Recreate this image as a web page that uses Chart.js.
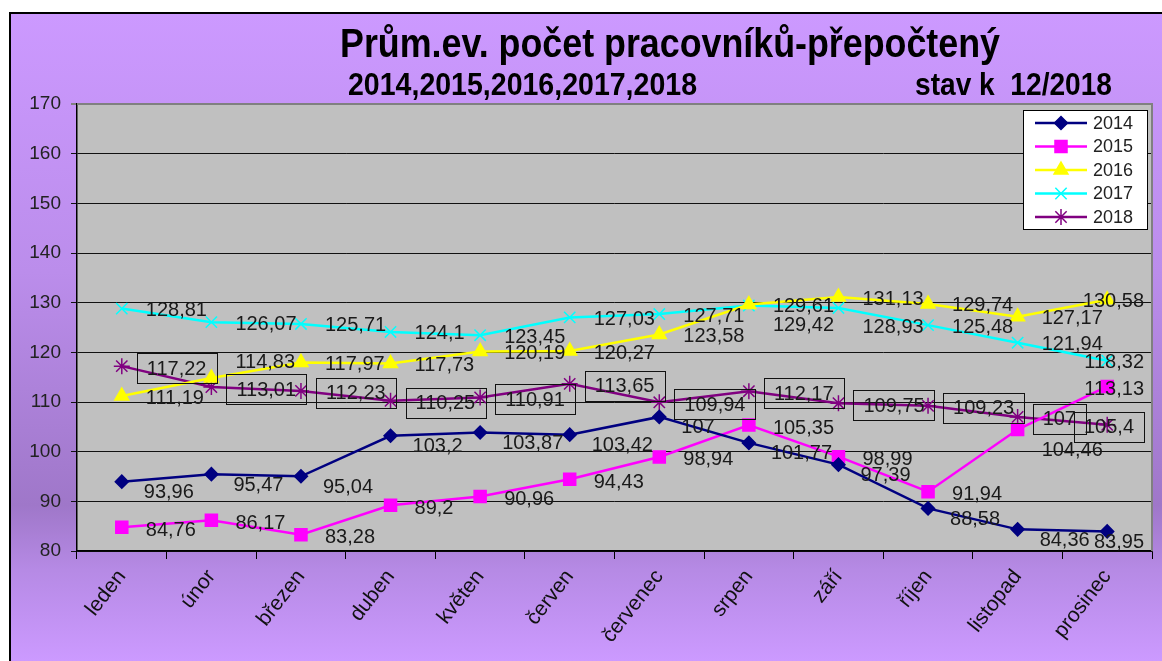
<!DOCTYPE html>
<html>
<head>
<meta charset="utf-8">
<script src="https://cdn.jsdelivr.net/npm/chart.js@4.4.0/dist/chart.umd.min.js"></script>
<style>
  html, body { margin: 0; padding: 0; background: #fff; }
  canvas { display: block; }
</style>
</head>
<body>
<canvas id="chart" width="1162" height="661"></canvas>
<script>
// Category axis and series
const months = ['leden', 'únor', 'březen', 'duben', 'květen', 'červen',
  'červenec', 'srpen', 'září', 'říjen', 'listopad', 'prosinec'];
const years = ['2014', '2015', '2016', '2017', '2018'];

const values2014 = [93.96, 95.47, 95.04, 103.2, 103.87, 103.42, 107, 101.77, 97.39, 88.58, 84.36, 83.95];
const values2015 = [84.76, 86.17, 83.28, 89.2, 90.96, 94.43, 98.94, 105.35, 98.99, 91.94, 104.46, 113.13];
const values2016 = [111.19, 114.83, 117.97, 117.73, 120.19, 120.27, 123.58, 129.61, 131.13, 129.74, 127.17, 130.58];
const values2017 = [128.81, 126.07, 125.71, 124.1, 123.45, 127.03, 127.71, 129.42, 128.93, 125.48, 121.94, 118.32];
const values2018 = [117.22, 113.01, 112.23, 110.25, 110.91, 113.65, 109.94, 112.17, 109.75, 109.23, 107, 105.4];

const yMin = 80;
const yMax = 170;
const yStep = 10;

const titleText = 'Prům.ev. počet pracovníků-přepočtený';
const subtitleYears = '2014,2015,2016,2017,2018';
const subtitleState = 'stav k  12/2018';

const FONT = '"Liberation Sans", Arial, sans-serif';

// format numbers the Czech way (decimal comma)
const fmt = v => String(v).replace('.', ',');

// draw text squeezed to a given width (the original uses a narrow face)
function drawFitted(ctx, text, x, y, width, font) {
  ctx.save();
  ctx.font = font;
  const w = ctx.measureText(text).width;
  ctx.translate(x, y);
  ctx.scale(width / w, 1);
  ctx.fillText(text, 0, 0);
  ctx.restore();
}

// purple page, frame and grey plot area
const backgroundPlugin = {
  id: 'background',
  beforeDraw(chart) {
    const { ctx, width, height, chartArea: a } = chart;
    ctx.save();
    ctx.fillStyle = '#fff';
    ctx.fillRect(0, 0, width, height);
    const g = ctx.createLinearGradient(0, 13, 0, height);
    g.addColorStop(0, '#cc99ff');
    g.addColorStop(0.4, '#bb8deb');
    g.addColorStop(0.76, '#9f77c9');
    g.addColorStop(0.86, '#b68ae5');
    g.addColorStop(1, '#cc9aff');
    ctx.fillStyle = g;
    ctx.fillRect(10, 13, width - 10, height - 13);
    ctx.strokeStyle = '#000';
    ctx.lineWidth = 2;
    ctx.beginPath();
    ctx.moveTo(10, height);
    ctx.lineTo(10, 13);
    ctx.lineTo(width, 13);
    ctx.stroke();
    ctx.fillStyle = '#c0c0c0';
    ctx.fillRect(a.left, a.top, a.right - a.left, a.bottom - a.top);
    ctx.restore();
  },
  beforeDatasetsDraw(chart) {
    const { ctx, chartArea: a } = chart;
    ctx.save();
    ctx.strokeStyle = '#808080';
    ctx.lineWidth = 2;
    ctx.beginPath();
    ctx.moveTo(a.left, a.top);
    ctx.lineTo(a.right, a.top);
    ctx.lineTo(a.right, a.bottom);
    ctx.stroke();
    ctx.restore();
  }
};

// title lines
const titlePlugin = {
  id: 'titles',
  afterDraw(chart) {
    const { ctx } = chart;
    ctx.save();
    ctx.fillStyle = '#000';
    ctx.textBaseline = 'alphabetic';
    drawFitted(ctx, titleText, 340, 57, 660, 'bold 40px ' + FONT);
    drawFitted(ctx, subtitleYears, 348, 95, 349, 'bold 32px ' + FONT);
    drawFitted(ctx, subtitleState, 915, 95, 197, 'bold 32px ' + FONT);
    ctx.restore();
  }
};

// value labels beside each point, 2018 ones framed.
// Labels that would sit on top of an earlier one get pushed down/up.
const overlapArea = (r, s) =>
  Math.max(0, Math.min(r.x2, s.x2) - Math.max(r.x1, s.x1)) *
  Math.max(0, Math.min(r.y2, s.y2) - Math.max(r.y1, s.y1));

const valueLabelPlugin = {
  id: 'valueLabels',
  afterDatasetsDraw(chart) {
    const { ctx, chartArea: a } = chart;
    const placed = [];
    const order = [4, 2, 3, 0, 1];
    const shifts = [0, 18, -18, 34, -34];
    ctx.save();
    ctx.font = '20px ' + FONT;
    ctx.textBaseline = 'middle';
    ctx.textAlign = 'left';
    ctx.fillStyle = '#1a1a1a';
    ctx.strokeStyle = '#111';
    ctx.lineWidth = 1;
    order.forEach(i => {
      const ds = chart.data.datasets[i];
      const meta = chart.getDatasetMeta(i);
      const o = ds.labelOffset;
      const pad = o.boxed ? 10 : 0;
      const h = o.boxed ? 30 : 16;
      meta.data.forEach((pt, j) => {
        const text = fmt(ds.data[j]);
        const w = ctx.measureText(text).width;
        let x = pt.x + o.dx;
        if (x + w + pad > a.right - 8) x = a.right - 8 - w - pad;
        let best = null;
        for (const s of shifts) {
          const y = pt.y + o.dy + s;
          const r = { x1: x - pad, x2: x + w + pad, y1: y - h / 2, y2: y + h / 2 };
          const hit = placed.reduce((m, p) => Math.max(m, overlapArea(r, p)), 0) / ((w + 2 * pad) * h);
          if (!best || hit < best.hit) best = { y, r, hit };
          if (hit < 0.2) break;
        }
        placed.push(best.r);
        ctx.fillText(text, x, best.y + 1);
        if (o.boxed) {
          ctx.strokeRect(Math.round(x - pad) + 0.5, Math.round(best.y - 15) + 0.5, Math.round(w + 2 * pad), 30);
        }
      });
    });
    ctx.restore();
  }
};

// legend box inside the plot, top right
const legendPlugin = {
  id: 'innerLegend',
  afterDraw(chart) {
    const { ctx } = chart;
    const box = { left: 1023, top: 110, width: 124, height: 119 };
    ctx.save();
    ctx.fillStyle = '#fff';
    ctx.fillRect(box.left, box.top, box.width, box.height);
    ctx.strokeStyle = '#000';
    ctx.lineWidth = 1;
    ctx.strokeRect(box.left + 0.5, box.top + 0.5, box.width, box.height);
    ctx.font = '18px ' + FONT;
    ctx.textBaseline = 'middle';
    chart.data.datasets.forEach((ds, i) => {
      const y = box.top + 13 + i * 23.5;
      ctx.strokeStyle = ds.borderColor;
      ctx.lineWidth = ds.borderWidth;
      ctx.beginPath();
      ctx.moveTo(box.left + 12, y);
      ctx.lineTo(box.left + 64, y);
      ctx.stroke();
      ctx.fillStyle = ds.pointBackgroundColor;
      ctx.strokeStyle = ds.pointBorderColor;
      ctx.lineWidth = ds.pointBorderWidth;
      Chart.helpers.drawPoint(ctx, {
        pointStyle: ds.pointStyle,
        radius: ds.pointRadius,
        rotation: 0,
        borderWidth: ds.pointBorderWidth
      }, box.left + 38, y);
      ctx.fillStyle = '#222';
      ctx.fillText(ds.label, box.left + 70, y + 1);
    });
    ctx.restore();
  }
};

const series = (label, data, color, pointStyle, radius, labelOffset) => ({
  label,
  data,
  borderColor: color,
  backgroundColor: color,
  pointBackgroundColor: color,
  pointBorderColor: color,
  pointBorderWidth: 1.5,
  borderWidth: 2.5,
  pointStyle,
  pointRadius: radius,
  tension: 0,
  labelOffset
});

new Chart(document.getElementById('chart'), {
  type: 'line',
  data: {
    labels: months,
    datasets: [
      series(years[0], values2014, '#000080', 'rectRot', 6.5, { dx: 22, dy: 10 }),
      series(years[1], values2015, '#ff00ff', 'rect', 8.5, { dx: 24, dy: 2 }),
      series(years[2], values2016, '#ffff00', 'triangle', 8, { dx: 24, dy: 1 }),
      series(years[3], values2017, '#00ffff', 'crossRot', 8, { dx: 24, dy: 1 }),
      series(years[4], values2018, '#800080', 'star', 8, { dx: 25, dy: 2, boxed: true })
    ]
  },
  options: {
    responsive: false,
    animation: false,
    layout: { padding: { top: 104, left: 0, right: 4, bottom: 0 } },
    plugins: {
      legend: { display: false },
      tooltip: { enabled: false },
      title: { display: false }
    },
    scales: {
      x: {
        offset: true,
        afterFit(scale) { scale.height = 110; },
        grid: {
          offset: true,
          drawOnChartArea: false,
          drawTicks: true,
          tickLength: 8,
          color: '#000'
        },
        border: { color: '#000', width: 1.5 },
        ticks: {
          autoSkip: false,
          minRotation: 52,
          maxRotation: 52,
          padding: 6,
          color: '#111',
          font: { family: FONT, size: 21 }
        }
      },
      y: {
        min: yMin,
        max: yMax,
        afterFit(scale) { scale.width = 77; },
        grid: {
          color: c => (c.tick && c.tick.value === yMax ? '#808080' : '#111'),
          lineWidth: c => (c.tick && c.tick.value === yMax ? 2 : 1),
          tickLength: 6
        },
        border: { color: '#000', width: 1.5 },
        ticks: {
          stepSize: yStep,
          padding: 10,
          color: '#222',
          font: { family: FONT, size: 19 }
        }
      }
    }
  },
  plugins: [backgroundPlugin, titlePlugin, valueLabelPlugin, legendPlugin]
});
</script>
</body>
</html>
